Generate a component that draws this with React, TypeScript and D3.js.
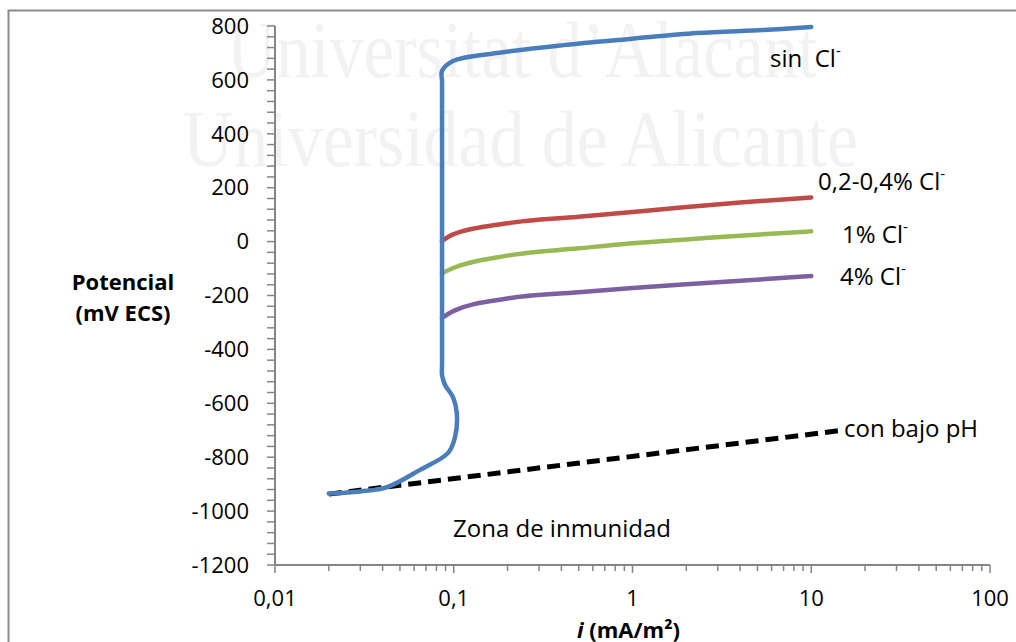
import React from "react";
import * as d3 from "d3";

const xTickValues = [0.01, 0.1, 1, 10, 100];
const xTickLabels = ["0,01", "0,1", "1", "10", "100"];
const yTickValues = [-1200, -1000, -800, -600, -400, -200, 0, 200, 400, 600, 800];

// series: [i (mA/m²), E (mV ECS)]
const sinCl: [number, number][] = [
  [0.02, -935], [0.03, -927], [0.0424, -911], [0.0648, -847], [0.093, -784],
  [0.1017, -725], [0.104, -636], [0.099, -577], [0.0894, -532], [0.086, -495],
  [0.086, -450], [0.086, 590], [0.086, 633], [0.099, 670], [0.175, 700],
  [0.41, 729], [0.97, 752], [2.3, 774], [5.4, 785], [10, 796],
];
const cl02_04: [number, number][] = [
  [0.086, 3], [0.1, 28], [0.2, 68], [0.5, 92], [1, 110], [2, 128], [4, 145], [10, 164],
];
const cl1: [number, number][] = [
  [0.086, -117], [0.1, -97], [0.2, -52], [0.5, -25], [1, -6], [2, 8], [4, 22], [10, 38],
];
const cl4: [number, number][] = [
  [0.086, -283], [0.1, -257], [0.2, -211], [0.5, -188], [1, -172], [2, -158], [4, -145], [10, -128],
];
const bajoPH: [number, number][] = [
  [0.02, -937], [15, -700],
];

const seriesColors = ["#4a7ebb", "#be4b48", "#98b954", "#7d60a0"];

const x = d3.scaleLog().domain([0.01, 100]).range([275, 990]);
const y = d3.scaleLinear().domain([-1200, 800]).range([565, 26]);

export default function App() {
  const line = d3
    .line<[number, number]>()
    .x((d) => x(d[0]))
    .y((d) => y(d[1]))
    .curve(d3.curveCatmullRom.alpha(0.5));
  const smooth = d3
    .line<[number, number]>()
    .x((d) => x(d[0]))
    .y((d) => y(d[1]))
    .curve(d3.curveMonotoneX);
  const straight = d3
    .line<[number, number]>()
    .x((d) => x(d[0]))
    .y((d) => y(d[1]));

  const minorX: number[] = [];
  [0.01, 0.1, 1, 10].forEach((d) => {
    for (let k = 2; k <= 9; k++) minorX.push(d * k);
  });
  const minorY = d3.range(-1200, 801, 40);

  const font = "'Open Sans', sans-serif";
  const axisColor = "#868686";
  const fs = 22;
  const lfs = 24;

  return (
    <svg
      width={1016}
      height={642}
      style={{ position: "absolute", left: 0, top: 0, background: "#fff" }}
      fontFamily={font}
    >
      <rect x={0} y={0} width={1016} height={642} fill="#fff" />
      <rect x={8.5} y={10.5} width={1020} height={650} fill="none" stroke="#8a8a8a" strokeWidth={2} />

      {/* watermark */}
      <g fill="#f2f2f2" fontFamily="'Liberation Serif', 'Times New Roman', serif" fontSize={80}>
        <text x={227} y={77} textLength={590} lengthAdjust="spacingAndGlyphs">Universitat d’Alacant</text>
        <text x={183} y={166} textLength={675} lengthAdjust="spacingAndGlyphs">Universidad de Alicante</text>
      </g>

      {/* axes */}
      <line x1={275} x2={275} y1={y(800)} y2={y(-1200)} stroke={axisColor} strokeWidth={2} />
      <line x1={275} x2={990} y1={565} y2={565} stroke={axisColor} strokeWidth={2} />
      {minorY.map((v) => (
        <line key={"my" + v} x1={267} x2={275} y1={y(v)} y2={y(v)} stroke={axisColor} strokeWidth={1.5} />
      ))}
      {minorX.map((v) => (
        <line key={"mx" + v} x1={x(v)} x2={x(v)} y1={565} y2={571} stroke={axisColor} strokeWidth={1.5} />
      ))}
      {xTickValues.map((v) => (
        <line key={"tx" + v} x1={x(v)} x2={x(v)} y1={565} y2={573} stroke={axisColor} strokeWidth={1.5} />
      ))}

      {yTickValues.map((v) => (
        <text key={"ly" + v} x={249} y={y(v)} dy="0.35em" textAnchor="end" fontSize={fs} fill="#000">
          {v}
        </text>
      ))}
      {xTickValues.map((v, i) => (
        <text key={"lx" + v} x={x(v)} y={606} textAnchor="middle" fontSize={fs} fill="#000">
          {xTickLabels[i]}
        </text>
      ))}

      {/* axis titles */}
      <text x={123} y={290} textAnchor="middle" fontSize={22} fontWeight="bold">Potencial</text>
      <text x={123} y={321} textAnchor="middle" fontSize={22} fontWeight="bold">(mV ECS)</text>
      <text x={577} y={638} fontSize={22} fontWeight="bold">
        <tspan fontStyle="italic">i</tspan> (mA/m²)
      </text>

      {/* data */}
      <path d={straight(bajoPH) || ""} fill="none" stroke="#000" strokeWidth={5} strokeDasharray="13 7" />
      <path d={smooth(cl02_04) || ""} fill="none" stroke={seriesColors[1]} strokeWidth={4.5} strokeLinecap="round" />
      <path d={smooth(cl1) || ""} fill="none" stroke={seriesColors[2]} strokeWidth={4.5} strokeLinecap="round" />
      <path d={smooth(cl4) || ""} fill="none" stroke={seriesColors[3]} strokeWidth={4.5} strokeLinecap="round" />
      <path d={line(sinCl) || ""} fill="none" stroke={seriesColors[0]} strokeWidth={4.5} strokeLinecap="round" strokeLinejoin="round" />

      {/* labels */}
      <g fontSize={lfs} fill="#000">
        <text x={770} y={67} xmlSpace="preserve">sin{"\u00a0\u00a0"}Cl<tspan fontSize={15} dy={-11}>-</tspan></text>
        <text x={818} y={190}>0,2-0,4% Cl<tspan fontSize={15} dy={-11}>-</tspan></text>
        <text x={842} y={243}>1% Cl<tspan fontSize={15} dy={-11}>-</tspan></text>
        <text x={840} y={285}>4% Cl<tspan fontSize={15} dy={-11}>-</tspan></text>
        <text x={844} y={437}>con bajo pH</text>
        <text x={453} y={537}>Zona de inmunidad</text>
      </g>
    </svg>
  );
}
